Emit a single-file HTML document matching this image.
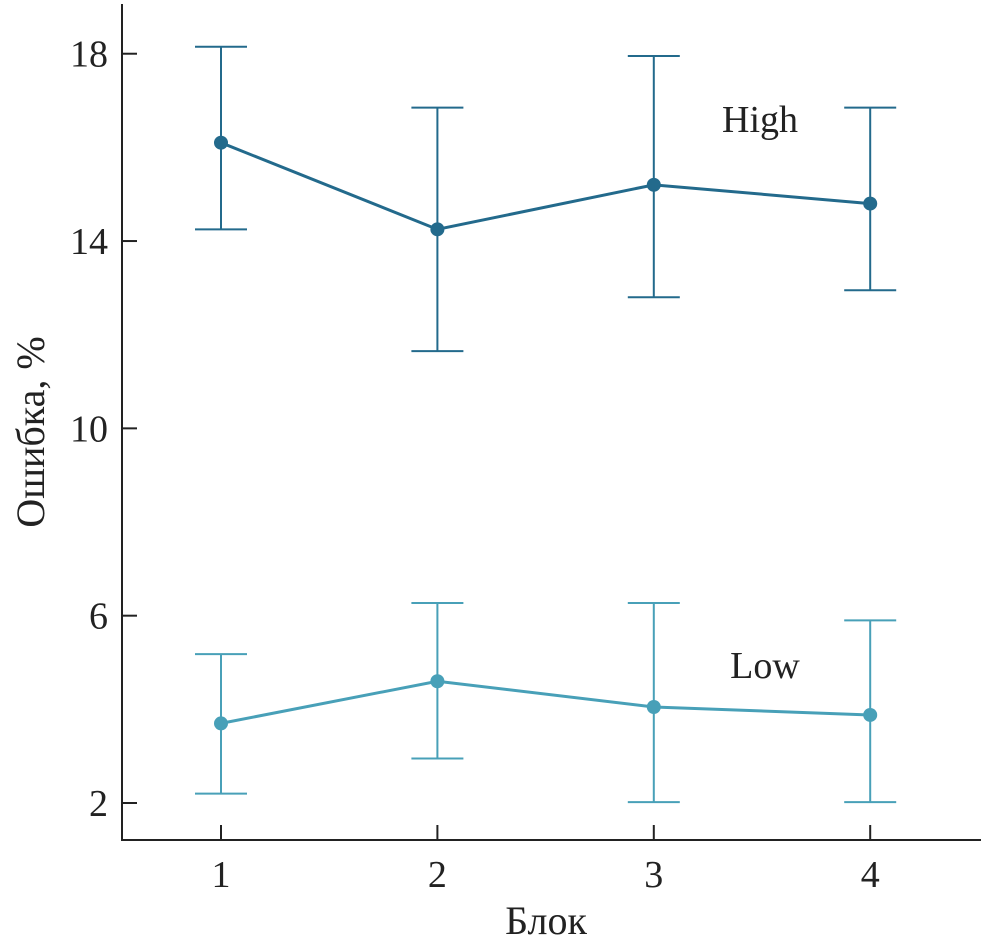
<!DOCTYPE html>
<html><head><meta charset="utf-8"><style>
html,body{margin:0;padding:0;background:#fff;}
svg{display:block;font-family:"Liberation Serif","Times New Roman",serif;}
</style></head><body>
<svg id="chart" width="985" height="950" viewBox="0 0 985 950" xmlns="http://www.w3.org/2000/svg"></svg>
<script>
const categories = [1, 2, 3, 4];
const highMean = [16.1, 14.25, 15.2, 14.8];
const highUpper = [18.15, 16.85, 17.95, 16.85];
const highLower = [14.25, 11.65, 12.8, 12.95];
const lowMean = [3.7, 4.6, 4.05, 3.88];
const lowUpper = [5.18, 6.27, 6.27, 5.9];
const lowLower = [2.2, 2.95, 2.02, 2.02];
const yTicks = [2, 6, 10, 14, 18];
const xTickLabels = ["1", "2", "3", "4"];

const NS = "http://www.w3.org/2000/svg";
const svg = document.getElementById("chart");
const xAxis = c => 221 + (c - 1) * 216.4;
const yAxis = v => 803 - (v - 2) * 46.83;

function mk(tag, attrs, parent) {
  const e = document.createElementNS(NS, tag);
  for (const k in attrs) e.setAttribute(k, attrs[k]);
  (parent || svg).appendChild(e);
  return e;
}

let a = mk("line", {x1:122, y1:4, x2:122, y2:840, stroke:"#222", "stroke-width":2});


a = mk("line", {x1:121, y1:840, x2:981, y2:840, stroke:"#222", "stroke-width":2});



yTicks.forEach(v => {
  const y = yAxis(v);
  const t = mk("line", {x1:122, y1:y, x2:137, y2:y, stroke:"#222", "stroke-width":2});
  
  
  const l = mk("text", {x:108, y:y + 13, "text-anchor":"end", "font-size":38, fill:"#222"});
  l.textContent = v;
  
  
});
categories.forEach((c, i) => {
  const x = xAxis(c);
  const t = mk("line", {x1:x, y1:825, x2:x, y2:840, stroke:"#222", "stroke-width":2});
  
  
  const l = mk("text", {x:x, y:887, "text-anchor":"middle", "font-size":38, fill:"#222"});
  l.textContent = xTickLabels[i];
  
  
});

function series(mean, up, lo, color, name) {
  const g = mk("g", {});
  
  
  categories.forEach((c, i) => {
    const x = xAxis(c);
    const e = mk("path", {d:`M${x},${yAxis(up[i])}V${yAxis(lo[i])}M${x-26},${yAxis(up[i])}H${x+26}M${x-26},${yAxis(lo[i])}H${x+26}`, stroke:color, "stroke-width":2, fill:"none"}, g);
    
    
  });
  const pl = mk("polyline", {points: categories.map((c, i) => xAxis(c) + "," + yAxis(mean[i])).join(" "), stroke:color, "stroke-width":3, fill:"none"}, g);
  
  
  categories.forEach((c, i) => {
    const p = mk("circle", {cx:xAxis(c), cy:yAxis(mean[i]), r:7, fill:color}, g);
    
    
  });
}
series(highMean, highUpper, highLower, "#236a8c", "high");
series(lowMean, lowUpper, lowLower, "#48a0b8", "low");

let t = mk("text", {x:760, y:132, "text-anchor":"middle", "font-size":38, fill:"#222"});
t.textContent = "High";


t = mk("text", {x:765, y:678, "text-anchor":"middle", "font-size":38, fill:"#222"});
t.textContent = "Low";


t = mk("text", {x:546, y:934, "text-anchor":"middle", "font-size":40, fill:"#222"});
t.textContent = "Блок";


t = mk("text", {x:0, y:0, "text-anchor":"middle", "font-size":40, fill:"#222", transform:"translate(44,432) rotate(-90)"});
t.textContent = "Ошибка, %";


</script>
</body></html>
